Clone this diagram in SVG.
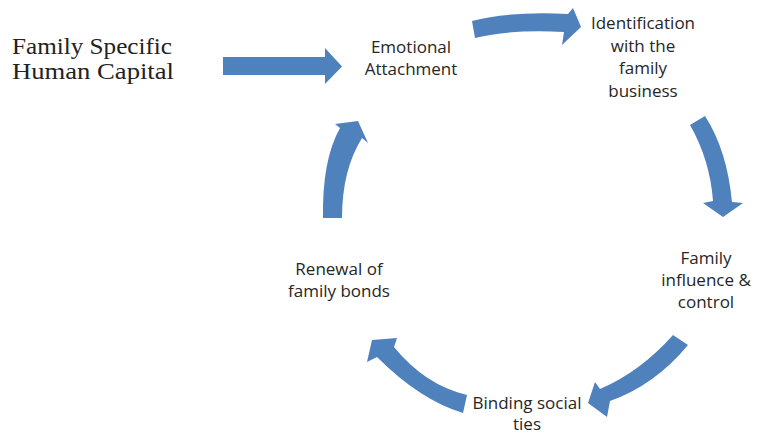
<svg xmlns="http://www.w3.org/2000/svg" width="763" height="435" viewBox="0 0 763 435">
<style>
.lbl{font-family:"Open Sans","Liberation Sans",sans-serif;font-size:17px;fill:#262626;text-anchor:middle}
.ser{font-family:"Liberation Serif","DejaVu Serif",serif;font-size:23px;fill:#222}
.arr{fill:#4F81BD}
</style>
<rect width="763" height="435" fill="#fff"/>
<g id="node-fshc"><text class="ser" x="12" y="54" textLength="160" lengthAdjust="spacingAndGlyphs">Family Specific</text><text class="ser" x="12" y="79" textLength="162" lengthAdjust="spacingAndGlyphs">Human Capital</text></g>
<g id="node-emotional"><text class="lbl" x="411" y="53">Emotional</text><text class="lbl" x="411" y="75">Attachment</text></g>
<g id="node-identification"><text class="lbl" x="643" y="29">Identification</text><text class="lbl" x="643" y="52">with the</text><text class="lbl" x="643" y="74">family</text><text class="lbl" x="643" y="97">business</text></g>
<g id="node-influence"><text class="lbl" x="706" y="264">Family</text><text class="lbl" x="706" y="286">influence &amp;</text><text class="lbl" x="706" y="308">control</text></g>
<g id="node-binding"><text class="lbl" x="527" y="409">Binding social</text><text class="lbl" x="527" y="430">ties</text></g>
<g id="node-renewal"><text class="lbl" x="339" y="275">Renewal of</text><text class="lbl" x="339" y="297">family bonds</text></g>
<g id="connectors">
<path class="arr" d="M223,57 L325,57 L325,48 L342,66.5 L325,84 L325,75 L223,75 Z"/>
<path class="arr" d="M472,21 Q510,11 568,14 L573,8 L581,27 L562,45 L564,32 Q512,29 475,38 Z"/>
<path class="arr" d="M690,125 L705,116 Q727,150 732,202 L743,203 L723,217 L703,203 L713,201 Q710,160 690,125 Z"/>
<path class="arr" d="M673,335 L688,345 Q655,385 610,401 L607,417 L588,403 L595,382 L600,389 Q640,372 673,335 Z"/>
<path class="arr" d="M467,395 L463,413 Q420,400 377,357 L367,362 L372,340 L397,338 L394,347 Q425,385 467,395 Z"/>
<path class="arr" d="M323,218 Q322,160 340,128 L335,124 L358,121 L368,143 L362,138 Q342,170 342,218 Z"/>
</g>
</svg>
